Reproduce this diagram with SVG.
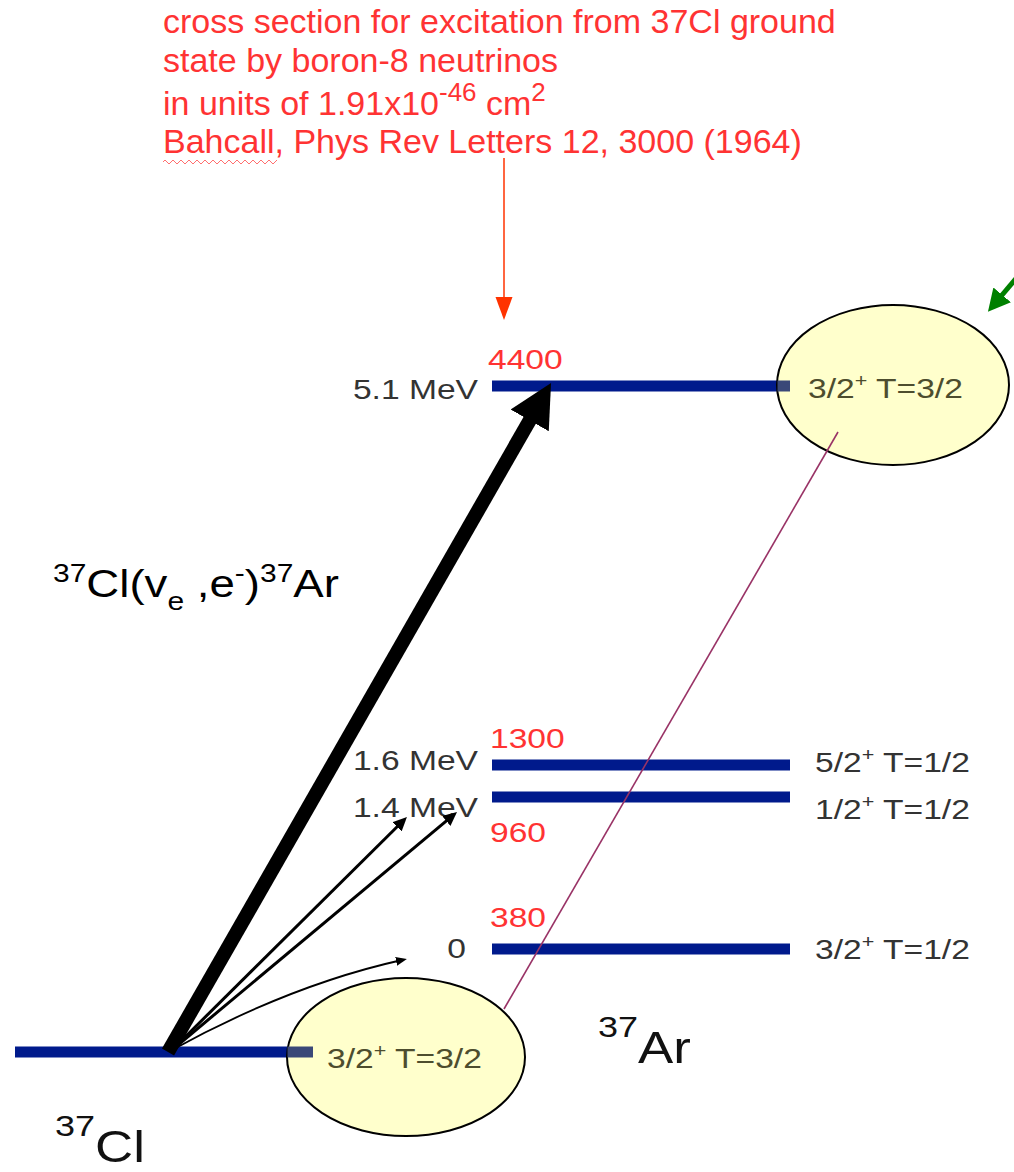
<svg xmlns="http://www.w3.org/2000/svg" width="1014" height="1172" viewBox="0 0 1014 1172">
<style>
text { font-family: "Liberation Sans", Arial, sans-serif; }
.ann { font-size: 34px; fill: #ff3333; }
.lvl { stroke: #001a8c; stroke-width: 11; }
.lvl-in { stroke: #3a4878; stroke-width: 11; }
.lbl { font-size: 28px; fill: #333333; }
.num { font-size: 28px; fill: #ff3333; }
.ell { fill: #ffffcc; stroke: #000000; stroke-width: 2; }
.etxt { font-size: 28px; fill: #4d4d2e; }
.big { font-size: 44px; fill: #111111; }
.rx { font-size: 38px; fill: #000000; }
</style>
<defs>
<marker id="bigHead" markerUnits="userSpaceOnUse" markerWidth="44" markerHeight="44" refX="23" refY="22" orient="auto">
<path d="M0,0 L43,22 L0,44 z" fill="#000"/>
</marker>
<marker id="thinHead" markerUnits="userSpaceOnUse" markerWidth="15" markerHeight="13" refX="8" refY="6.5" orient="auto">
<path d="M0,0 L14,6.5 L0,13 z" fill="#000"/>
</marker>
<marker id="tinyHead" markerUnits="userSpaceOnUse" markerWidth="12" markerHeight="10" refX="6" refY="4.5" orient="auto">
<path d="M0,0 L11,4.5 L0,9 z" fill="#000"/>
</marker>
<marker id="redHead" markerUnits="userSpaceOnUse" markerWidth="24" markerHeight="18" refX="3" refY="8.5" orient="auto">
<path d="M0,0 L23,8.5 L0,17 z" fill="#ff3300"/>
</marker>
<marker id="greenHead" markerUnits="userSpaceOnUse" markerWidth="24" markerHeight="24" refX="8" refY="11.5" orient="auto">
<path d="M0,0 L22,11.5 L0,23 z" fill="#008000"/>
</marker>
</defs>

<g id="annotation">
<text class="ann" x="163" y="33">cross section for excitation from 37Cl ground</text>
<text class="ann" x="163" y="72">state by boron-8 neutrinos</text>
<text class="ann" x="163" y="115">in units of 1.91x10<tspan font-size="26" dy="-14">-46</tspan><tspan dy="14"> cm</tspan><tspan font-size="26" dy="-14">2</tspan></text>
<text class="ann" x="163" y="153">Bahcall, Phys Rev Letters 12, 3000 (1964)</text>
<path d="M163,162 l2,-2 l2,2 l2,2 l2,-2 l2,-2 l2,2 l2,2 l2,-2 l2,-2 l2,2 l2,2 l2,-2 l2,-2 l2,2 l2,2 l2,-2 l2,-2 l2,2 l2,2 l2,-2 l2,-2 l2,2 l2,2 l2,-2 l2,-2 l2,2 l2,2 l2,-2 l2,-2 l2,2 l2,2 l2,-2 l2,-2 l2,2 l2,2 l2,-2 l2,-2 l2,2 l2,2 l2,-2 l2,-2 l2,2 l2,2 l2,-2 l2,-2 l2,2 l2,2 l2,-2 l2,-2 l2,2 l2,2 l2,-2 l2,-2 l2,2 l2,2 l2,-2 l2,-2" fill="none" stroke="#ff7070" stroke-width="1"/>
</g>

<g id="level-ar-5.1">
<line class="lvl" x1="492" y1="386" x2="790" y2="386"/>
<text class="lbl" text-anchor="end" transform="translate(478,399) scale(1.2,1)">5.1 MeV</text>
<text class="num" transform="translate(488,369) scale(1.2,1)">4400</text>
</g>

<g id="level-ar-1.6">
<line class="lvl" x1="492" y1="765" x2="790" y2="765"/>
<text class="lbl" text-anchor="end" transform="translate(478,770) scale(1.2,1)">1.6 MeV</text>
<text class="num" transform="translate(490,748) scale(1.2,1)">1300</text>
<text class="lbl" transform="translate(815,772) scale(1.2,1)">5/2<tspan font-size="18" dy="-11">+</tspan><tspan dy="11"> T=1/2</tspan></text>
</g>

<g id="level-ar-1.4">
<line class="lvl" x1="492" y1="797" x2="790" y2="797"/>
<text class="lbl" text-anchor="end" transform="translate(478,817) scale(1.2,1)">1.4 MeV</text>
<text class="num" transform="translate(490,842) scale(1.2,1)">960</text>
<text class="lbl" transform="translate(815,819) scale(1.2,1)">1/2<tspan font-size="18" dy="-11">+</tspan><tspan dy="11"> T=1/2</tspan></text>
</g>

<g id="level-ar-0">
<line class="lvl" x1="492" y1="949" x2="790" y2="949"/>
<text class="lbl" text-anchor="end" transform="translate(466,958) scale(1.2,1)">0</text>
<text class="num" transform="translate(490,927) scale(1.2,1)">380</text>
<text class="lbl" transform="translate(815,959) scale(1.2,1)">3/2<tspan font-size="18" dy="-11">+</tspan><tspan dy="11"> T=1/2</tspan></text>
</g>

<g id="level-cl-ground">
<line class="lvl" x1="15" y1="1052" x2="313" y2="1052"/>
</g>

<g id="ellipse-ar-analog">
<ellipse class="ell" cx="893" cy="385" rx="116" ry="80"/>
<line class="lvl-in" x1="777.5" y1="386" x2="790" y2="386"/>
<text class="etxt" transform="translate(808,398) scale(1.2,1)">3/2<tspan font-size="18" dy="-11">+</tspan><tspan dy="11"> T=3/2</tspan></text>
</g>

<g id="ellipse-cl-ground">
<ellipse class="ell" cx="406" cy="1057" rx="119" ry="79"/>
<line class="lvl-in" x1="287.5" y1="1052" x2="313" y2="1052"/>
<text class="etxt" transform="translate(327,1068) scale(1.2,1)">3/2<tspan font-size="18" dy="-11">+</tspan><tspan dy="11"> T=3/2</tspan></text>
</g>

<g id="label-ar">
<text class="big" transform="translate(598,1063) scale(1.2,1)"><tspan font-size="30" dy="-26">37</tspan><tspan dy="26">Ar</tspan></text>
</g>

<g id="label-cl">
<text class="big" transform="translate(55,1162) scale(1.2,1)"><tspan font-size="30" dy="-26">37</tspan><tspan dy="26">Cl</tspan></text>
</g>

<g id="label-reaction">
<text class="rx" transform="translate(53,597) scale(1.2,1)"><tspan font-size="25" dy="-15">37</tspan><tspan dy="15">Cl(v</tspan><tspan font-size="25" dy="13">e</tspan><tspan dy="-13"> ,e</tspan><tspan font-size="25" dy="-15">-</tspan><tspan dy="15">)</tspan><tspan font-size="25" dy="-15">37</tspan><tspan dy="15">Ar</tspan></text>
</g>

<g id="connectors">
<line x1="504" y1="158" x2="504" y2="300" stroke="#ff3300" stroke-width="1.5" marker-end="url(#redHead)"/>
<line x1="838" y1="432" x2="504" y2="1009" stroke="#993366" stroke-width="1.6"/>
<line x1="168" y1="1052" x2="541.1" y2="400.4" stroke="#000" stroke-width="14" marker-end="url(#bigHead)"/>
<line x1="172" y1="1050" x2="402.7" y2="821.2" stroke="#000" stroke-width="3" marker-end="url(#thinHead)"/>
<line x1="172" y1="1050" x2="452.4" y2="815.8" stroke="#000" stroke-width="3" marker-end="url(#thinHead)"/>
<path d="M172,1050 Q290,985 402,960" fill="none" stroke="#000" stroke-width="1.8" marker-end="url(#tinyHead)"/>
<line x1="1030" y1="262" x2="997" y2="301" stroke="#008000" stroke-width="5" marker-end="url(#greenHead)"/>
</g>
</svg>
